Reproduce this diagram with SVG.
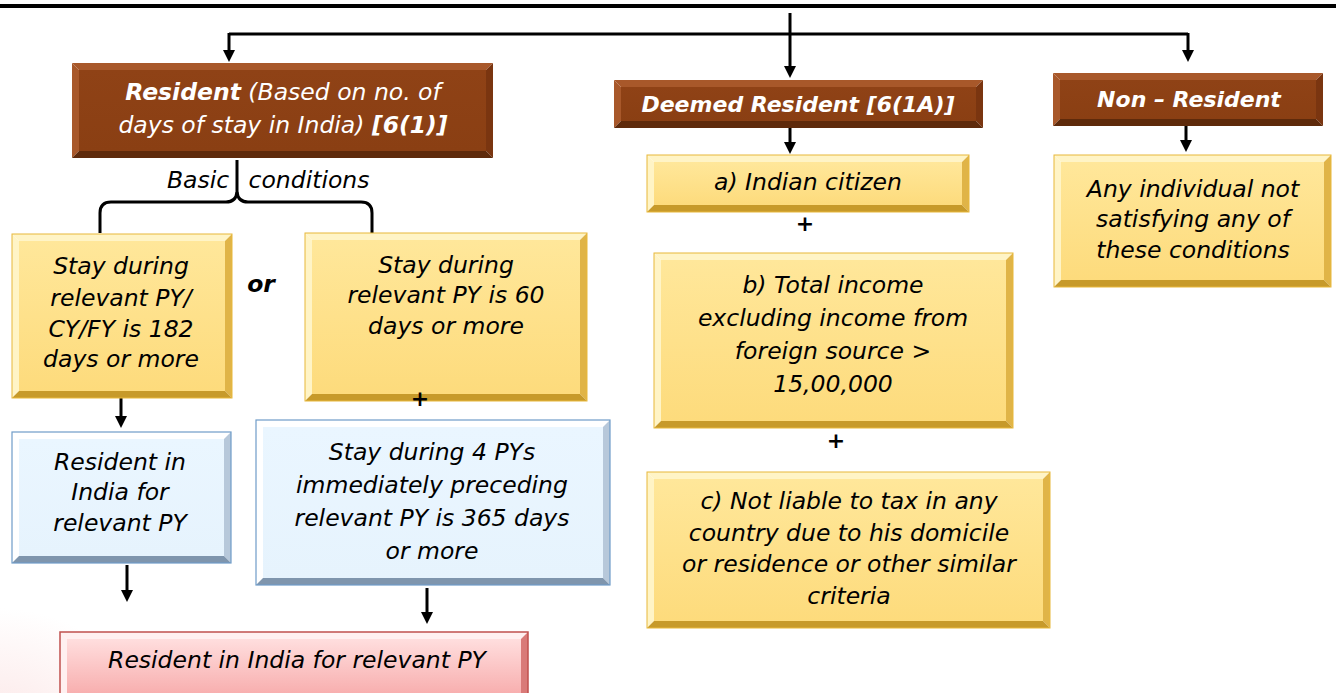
<svg xmlns="http://www.w3.org/2000/svg" width="1336" height="693" viewBox="0 0 1336 693">
  <style>
    .t { font-family: "DejaVu Sans", "Liberation Sans", sans-serif; font-style: italic; font-size: 23.5px; fill: #000; text-anchor: middle; }
    .w { fill: #fff; }
    .b { font-weight: bold; }
    .h { font-size: 22px; }
    .p { font-family: "DejaVu Sans", sans-serif; font-weight: bold; font-size: 22px; text-anchor: middle; }
    .ln { stroke: #000; stroke-width: 3; fill: none; }
    .br-lt { fill: #a8582a; } .br-dk { fill: #5e2a0b; } .br-sd { fill: #7a3510; }
    .ye-lt { fill: #fff4c6; } .ye-dk { fill: #c79a2a; } .ye-sd { fill: #e0b447; }
    .bl-lt { fill: #ffffff; } .bl-dk { fill: #7f95ad; } .bl-sd { fill: #b7c8da; }
    .rd-lt { fill: #fff0f0; } .rd-dk { fill: #b9504d; } .rd-sd { fill: #d97a78; }
  </style>
  <defs>
    <linearGradient id="gBrown" x1="0" y1="0" x2="0" y2="1">
      <stop offset="0" stop-color="#8f4216"/>
      <stop offset="1" stop-color="#8a3f13"/>
    </linearGradient>
    <linearGradient id="gYellow" x1="0" y1="0" x2="0" y2="1">
      <stop offset="0" stop-color="#ffe79a"/>
      <stop offset="1" stop-color="#fddb7c"/>
    </linearGradient>
    <linearGradient id="gBlue" x1="0" y1="0" x2="0" y2="1">
      <stop offset="0" stop-color="#eaf6ff"/>
      <stop offset="1" stop-color="#e6f3fd"/>
    </linearGradient>
    <linearGradient id="gRed" x1="0" y1="0" x2="0" y2="1">
      <stop offset="0" stop-color="#ffdede"/>
      <stop offset="1" stop-color="#f7a9a9"/>
    </linearGradient>
    <radialGradient id="gHaze" cx="0.3" cy="0.8" r="0.7">
      <stop offset="0" stop-color="#fbe3e3" stop-opacity="0.9"/>
      <stop offset="1" stop-color="#fbe3e3" stop-opacity="0"/>
    </radialGradient>
  </defs>

  <rect width="1336" height="693" fill="#fff"/>
  <ellipse cx="40" cy="680" rx="110" ry="90" fill="url(#gHaze)"/>

  <!-- top rule -->
  <rect x="0" y="4" width="1336" height="4" fill="#000"/>

  <!-- connectors -->
  <g id="connectors">
    <path class="ln" d="M790,13 V66"/>
    <path class="ln" d="M229,34 H1188"/>
    <path d="M784,66 H796 L790,78 Z" fill="#000"/>
    <path class="ln" d="M229,33 V52"/>
    <path d="M223,50 H235 L229,62 Z" fill="#000"/>
    <path class="ln" d="M1188,33 V52"/>
    <path d="M1182,50 H1194 L1188,62 Z" fill="#000"/>
    <path class="ln" d="M790,128 V144"/>
    <path d="M784,142 H796 L790,154 Z" fill="#000"/>
    <path class="ln" d="M1186,126 V142"/>
    <path d="M1180,140 H1192 L1186,152 Z" fill="#000"/>
    <!-- brace under the resident box -->
    <path class="ln" d="M100,233 V213 Q100,202 111,202 H226 Q236,202 237,192 V160"/>
    <path class="ln" d="M237,192 Q238,202 248,202 H361 Q372,202 372,213 V233"/>
    <path class="ln" d="M121,396 V418"/>
    <path d="M115,416 H127 L121,428 Z" fill="#000"/>
    <path class="ln" d="M127,565 V592"/>
    <path d="M121,590 H133 L127,602 Z" fill="#000"/>
    <path class="ln" d="M427,588 V614"/>
    <path d="M421,612 H433 L427,624 Z" fill="#000"/>
  </g>

  <!-- Resident -->
  <g id="resident">
    <polygon class="br-lt" points="72,63 493,63 486,70 79,70"/>
    <polygon class="br-lt" points="72,63 79,70 79,151 72,158"/>
    <polygon class="br-sd" points="493,63 493,158 486,151 486,70"/>
    <polygon class="br-dk" points="72,158 79,151 486,151 493,158"/>
    <rect x="79" y="70" width="407" height="81" fill="url(#gBrown)"/>
    <text class="t w" x="283" y="100"><tspan class="b">Resident</tspan> (Based on no. of</text>
    <text class="t w" x="283" y="133">days of stay in India) <tspan class="b">[6(1)]</tspan></text>
  </g>

  <!-- brace labels -->
  <g id="basic-conditions">
    <text class="t" x="198" y="188">Basic</text>
    <text class="t" x="309" y="188">conditions</text>
  </g>

  <!-- Condition 182 days -->
  <g id="cond-182">
    <polygon class="ye-lt" points="12,234 232,234 225,241 19,241"/>
    <polygon class="ye-lt" points="12,234 19,241 19,391 12,398"/>
    <polygon class="ye-sd" points="232,234 232,398 225,391 225,241"/>
    <polygon class="ye-dk" points="12,398 19,391 225,391 232,398"/>
    <rect x="19" y="241" width="206" height="150" fill="url(#gYellow)"/>
    <rect x="12" y="234" width="220" height="164" fill="none" stroke="#e8b83a" stroke-width="1"/>
    <text class="t" x="121" y="274">Stay during</text>
    <text class="t" x="121" y="306">relevant PY/</text>
    <text class="t" x="121" y="337">CY/FY is 182</text>
    <text class="t" x="121" y="367">days or more</text>
  </g>

  <text class="t b" x="261" y="292">or</text>

  <!-- Condition 60 days -->
  <g id="cond-60">
    <polygon class="ye-lt" points="305,233 587,233 580,240 312,240"/>
    <polygon class="ye-lt" points="305,233 312,240 312,394 305,401"/>
    <polygon class="ye-sd" points="587,233 587,401 580,394 580,240"/>
    <polygon class="ye-dk" points="305,401 312,394 580,394 587,401"/>
    <rect x="312" y="240" width="268" height="154" fill="url(#gYellow)"/>
    <rect x="305" y="233" width="282" height="168" fill="none" stroke="#e8b83a" stroke-width="1"/>
    <text class="t" x="446" y="273">Stay during</text>
    <text class="t" x="446" y="303">relevant PY is 60</text>
    <text class="t" x="446" y="334">days or more</text>
  </g>

  <text class="p" x="420" y="406">+</text>

  <!-- Result: resident (182 days) -->
  <g id="res-182">
    <polygon class="bl-lt" points="12,432 231,432 224,439 19,439"/>
    <polygon class="bl-lt" points="12,432 19,439 19,556 12,563"/>
    <polygon class="bl-sd" points="231,432 231,563 224,556 224,439"/>
    <polygon class="bl-dk" points="12,563 19,556 224,556 231,563"/>
    <rect x="19" y="439" width="205" height="117" fill="url(#gBlue)"/>
    <rect x="12" y="432" width="219" height="131" fill="none" stroke="#6f9cc8" stroke-width="1.2"/>
    <text class="t" x="120" y="470">Resident in</text>
    <text class="t" x="120" y="500">India for</text>
    <text class="t" x="120" y="531">relevant PY</text>
  </g>

  <!-- Condition 365 days -->
  <g id="cond-365">
    <polygon class="bl-lt" points="256,420 610,420 603,427 263,427"/>
    <polygon class="bl-lt" points="256,420 263,427 263,578 256,585"/>
    <polygon class="bl-sd" points="610,420 610,585 603,578 603,427"/>
    <polygon class="bl-dk" points="256,585 263,578 603,578 610,585"/>
    <rect x="263" y="427" width="340" height="151" fill="url(#gBlue)"/>
    <rect x="256" y="420" width="354" height="165" fill="none" stroke="#6f9cc8" stroke-width="1.2"/>
    <text class="t" x="432" y="460">Stay during 4 PYs</text>
    <text class="t" x="432" y="493">immediately preceding</text>
    <text class="t" x="432" y="526">relevant PY is 365 days</text>
    <text class="t" x="432" y="559">or more</text>
  </g>

  <!-- Final result -->
  <g id="res-final">
    <polygon class="rd-lt" points="60,632 528,632 521,639 67,639"/>
    <polygon class="rd-lt" points="60,632 67,639 67,700 60,700"/>
    <polygon class="rd-sd" points="528,632 528,700 521,700 521,639"/>
    <rect x="67" y="639" width="454" height="61" fill="url(#gRed)"/>
    <rect x="60" y="632" width="468" height="70" fill="none" stroke="#c0504d" stroke-width="1.5"/>
    <text class="t" x="297" y="668">Resident in India for relevant PY</text>
  </g>

  <!-- Deemed Resident -->
  <g id="deemed">
    <polygon class="br-lt" points="614,80 983,80 976,87 621,87"/>
    <polygon class="br-lt" points="614,80 621,87 621,121 614,128"/>
    <polygon class="br-sd" points="983,80 983,128 976,121 976,87"/>
    <polygon class="br-dk" points="614,128 621,121 976,121 983,128"/>
    <rect x="621" y="87" width="355" height="34" fill="url(#gBrown)"/>
    <text class="t w b h" x="798" y="112">Deemed Resident [6(1A)]</text>
  </g>

  <g id="cond-a">
    <polygon class="ye-lt" points="647,155 969,155 962,162 654,162"/>
    <polygon class="ye-lt" points="647,155 654,162 654,205 647,212"/>
    <polygon class="ye-sd" points="969,155 969,212 962,205 962,162"/>
    <polygon class="ye-dk" points="647,212 654,205 962,205 969,212"/>
    <rect x="654" y="162" width="308" height="43" fill="url(#gYellow)"/>
    <rect x="647" y="155" width="322" height="57" fill="none" stroke="#e8b83a" stroke-width="1"/>
    <text class="t" x="808" y="190">a) Indian citizen</text>
  </g>

  <text class="p" x="805" y="231">+</text>

  <g id="cond-b">
    <polygon class="ye-lt" points="654,253 1013,253 1006,260 661,260"/>
    <polygon class="ye-lt" points="654,253 661,260 661,421 654,428"/>
    <polygon class="ye-sd" points="1013,253 1013,428 1006,421 1006,260"/>
    <polygon class="ye-dk" points="654,428 661,421 1006,421 1013,428"/>
    <rect x="661" y="260" width="345" height="161" fill="url(#gYellow)"/>
    <rect x="654" y="253" width="359" height="175" fill="none" stroke="#e8b83a" stroke-width="1"/>
    <text class="t" x="833" y="293">b) Total income</text>
    <text class="t" x="833" y="326">excluding income from</text>
    <text class="t" x="833" y="359">foreign source &gt;</text>
    <text class="t" x="833" y="392">15,00,000</text>
  </g>

  <text class="p" x="836" y="448">+</text>

  <g id="cond-c">
    <polygon class="ye-lt" points="647,472 1050,472 1043,479 654,479"/>
    <polygon class="ye-lt" points="647,472 654,479 654,621 647,628"/>
    <polygon class="ye-sd" points="1050,472 1050,628 1043,621 1043,479"/>
    <polygon class="ye-dk" points="647,628 654,621 1043,621 1050,628"/>
    <rect x="654" y="479" width="389" height="142" fill="url(#gYellow)"/>
    <rect x="647" y="472" width="403" height="156" fill="none" stroke="#e8b83a" stroke-width="1"/>
    <text class="t" x="849" y="509">c) Not liable to tax in any</text>
    <text class="t" x="849" y="541">country due to his domicile</text>
    <text class="t" x="849" y="572">or residence or other similar</text>
    <text class="t" x="849" y="604">criteria</text>
  </g>

  <!-- Non-Resident -->
  <g id="non-resident">
    <polygon class="br-lt" points="1053,73 1323,73 1316,80 1060,80"/>
    <polygon class="br-lt" points="1053,73 1060,80 1060,119 1053,126"/>
    <polygon class="br-sd" points="1323,73 1323,126 1316,119 1316,80"/>
    <polygon class="br-dk" points="1053,126 1060,119 1316,119 1323,126"/>
    <rect x="1060" y="80" width="256" height="39" fill="url(#gBrown)"/>
    <text class="t w b h" x="1189" y="107">Non – Resident</text>
  </g>

  <g id="non-resident-cond">
    <polygon class="ye-lt" points="1054,155 1331,155 1324,162 1061,162"/>
    <polygon class="ye-lt" points="1054,155 1061,162 1061,280 1054,287"/>
    <polygon class="ye-sd" points="1331,155 1331,287 1324,280 1324,162"/>
    <polygon class="ye-dk" points="1054,287 1061,280 1324,280 1331,287"/>
    <rect x="1061" y="162" width="263" height="118" fill="url(#gYellow)"/>
    <rect x="1054" y="155" width="277" height="132" fill="none" stroke="#e8b83a" stroke-width="1"/>
    <text class="t" x="1193" y="197">Any individual not</text>
    <text class="t" x="1193" y="227">satisfying any of</text>
    <text class="t" x="1193" y="258">these conditions</text>
  </g>
</svg>
